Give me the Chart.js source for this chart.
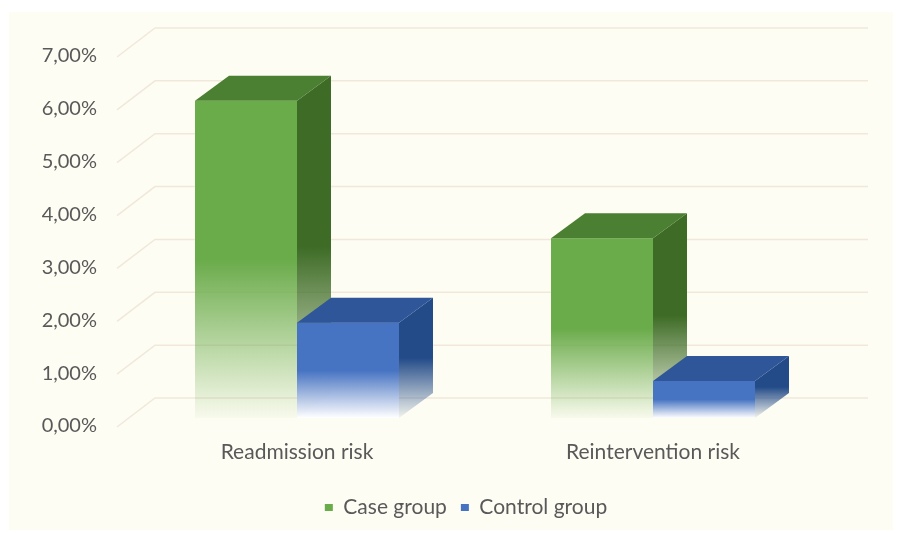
<!DOCTYPE html>
<html>
<head>
<meta charset="utf-8">
<script src="https://cdn.jsdelivr.net/npm/chart.js@4.4.1/dist/chart.umd.min.js"></script>
<style>
  html, body { margin: 0; padding: 0; background: #ffffff; }
  #wrap { width: 897px; height: 533px; position: relative; }
</style>
</head>
<body>
<div id="wrap"><canvas id="barChart"></canvas></div>
<script>
const categories = ['Readmission risk', 'Reintervention risk'];
const caseGroup = [6.0, 3.4];
const controlGroup = [1.8, 0.7];
const yTicks = [0, 1, 2, 3, 4, 5, 6, 7];

// depth of the bars and of the back wall (3D look)
const BAR_DX = 34, BAR_DY = -25;
const WALL_DX = 37, WALL_DY = -20;

const textColor = '#595959';
const gridColor = '#f1e8dc';
const fontFamily = 'Lato';

function fadeGradient(ctx, top, base, color, fadeColor) {
  const g = ctx.createLinearGradient(0, top, 0, base);
  g.addColorStop(0, color);
  g.addColorStop(0.5, color);
  g.addColorStop(1, fadeColor);
  return g;
}

function frontFill(color, fadeColor) {
  return function(context) {
    const chart = context.chart;
    if (!chart.chartArea || context.raw === undefined) return color;
    const y = chart.scales.y;
    return fadeGradient(chart.ctx, y.getPixelForValue(context.raw), y.getPixelForValue(0), color, fadeColor);
  };
}

const paperPlugin = {
  id: 'paper',
  afterLayout(chart) {
    // legend in the original sits a little left of the plot centre
    chart.legend.left -= 9;
    chart.legend.right -= 9;
  },
  beforeDraw(chart) {
    const ctx = chart.ctx;
    ctx.save();
    ctx.fillStyle = '#fefdf3';
    ctx.fillRect(9, 12, 884, 518);
    ctx.restore();
  }
};

// back wall grid lines + side wall diagonals
const wallGridPlugin = {
  id: 'wallGrid',
  beforeDatasetsDraw(chart) {
    const ctx = chart.ctx;
    const area = chart.chartArea;
    const y = chart.scales.y;
    ctx.save();
    ctx.strokeStyle = gridColor;
    ctx.lineWidth = 1.5;
    yTicks.forEach(v => {
      const py = y.getPixelForValue(v);
      ctx.beginPath();
      ctx.moveTo(area.left - 2, py + 9);
      ctx.lineTo(area.left + 36, py + WALL_DY);
      ctx.lineTo(area.right + WALL_DX, py + WALL_DY);
      ctx.stroke();
    });
    ctx.restore();
  }
};

const sideColors = [
  { top: '#4b7f31', side: '#3e6c26', sideFade: 'rgba(62,108,38,0.05)' },
  { top: '#2f5698', side: '#234b88', sideFade: 'rgba(35,75,136,0.05)' }
];

// top and right faces of each bar, drawn left group first so the
// blue front sits over the green side face
const boxPlugin = {
  id: 'box3d',
  afterDatasetsDraw(chart) {
    const ctx = chart.ctx;
    [0, 1].forEach(i => {
      const meta = chart.getDatasetMeta(i);
      const c = sideColors[i];
      meta.data.forEach(bar => {
        const p = bar.getProps(['x', 'y', 'base', 'width'], true);
        const x1 = p.x - p.width / 2;
        const x2 = p.x + p.width / 2;
        if (i > 0) bar.draw(ctx, chart.chartArea);
        ctx.save();
        ctx.beginPath();
        ctx.moveTo(x2, p.y);
        ctx.lineTo(x2 + BAR_DX, p.y + BAR_DY);
        ctx.lineTo(x2 + BAR_DX, p.base + BAR_DY);
        ctx.lineTo(x2, p.base);
        ctx.closePath();
        ctx.fillStyle = fadeGradient(ctx, p.y + BAR_DY, p.base, c.side, c.sideFade);
        ctx.fill();
        ctx.beginPath();
        ctx.moveTo(x1, p.y);
        ctx.lineTo(x1 + BAR_DX, p.y + BAR_DY);
        ctx.lineTo(x2 + BAR_DX, p.y + BAR_DY);
        ctx.lineTo(x2, p.y);
        ctx.closePath();
        ctx.fillStyle = c.top;
        ctx.fill();
        ctx.restore();
      });
    });
  }
};

const ctx = document.getElementById('barChart').getContext('2d');
new Chart(ctx, {
  type: 'bar',
  data: {
    labels: categories,
    datasets: [
      {
        label: 'Case group',
        data: caseGroup,
        backgroundColor: frontFill('#6aab4a', 'rgba(106,171,74,0.04)'),
        borderWidth: 0,
        categoryPercentage: 0.573,
        barPercentage: 1.0
      },
      {
        label: 'Control group',
        data: controlGroup,
        backgroundColor: frontFill('#4673c2', 'rgba(255,255,255,0.9)'),
        borderWidth: 0,
        categoryPercentage: 0.573,
        barPercentage: 1.0
      }
    ]
  },
  options: {
    responsive: true,
    maintainAspectRatio: false,
    animation: false,
    layout: {
      padding: { top: 48, left: 0, right: 66, bottom: 5 }
    },
    scales: {
      x: {
        grid: { display: false },
        border: { display: false },
        ticks: {
          color: textColor,
          padding: 14,
          font: { family: fontFamily, size: 21 }
        },
        afterFit(scale) { scale.height = 65; }
      },
      y: {
        min: 0,
        max: 7,
        grid: { display: false, drawTicks: false },
        border: { display: false },
        ticks: {
          stepSize: 1,
          color: textColor,
          padding: 22,
          labelOffset: 8,
          font: { family: fontFamily, size: 20 },
          callback: v => v.toFixed(2).replace('.', ',') + '%'
        },
        afterFit(scale) { scale.width = 119; }
      }
    },
    plugins: {
      legend: {
        position: 'bottom',
        fullSize: false,
        labels: {
          color: textColor,
          boxWidth: 8,
          boxHeight: 7,
          padding: 14,
          font: { family: fontFamily, size: 21 },
          generateLabels(chart) {
            const fills = ['#6aab4a', '#4673c2'];
            return chart.data.datasets.map((ds, i) => ({
              text: ds.label,
              fillStyle: fills[i],
              strokeStyle: fills[i],
              lineWidth: 0,
              fontColor: textColor,
              datasetIndex: i,
              hidden: false
            }));
          }
        }
      },
      tooltip: { enabled: false }
    }
  },
  plugins: [paperPlugin, wallGridPlugin, boxPlugin]
});
</script>
</body>
</html>
